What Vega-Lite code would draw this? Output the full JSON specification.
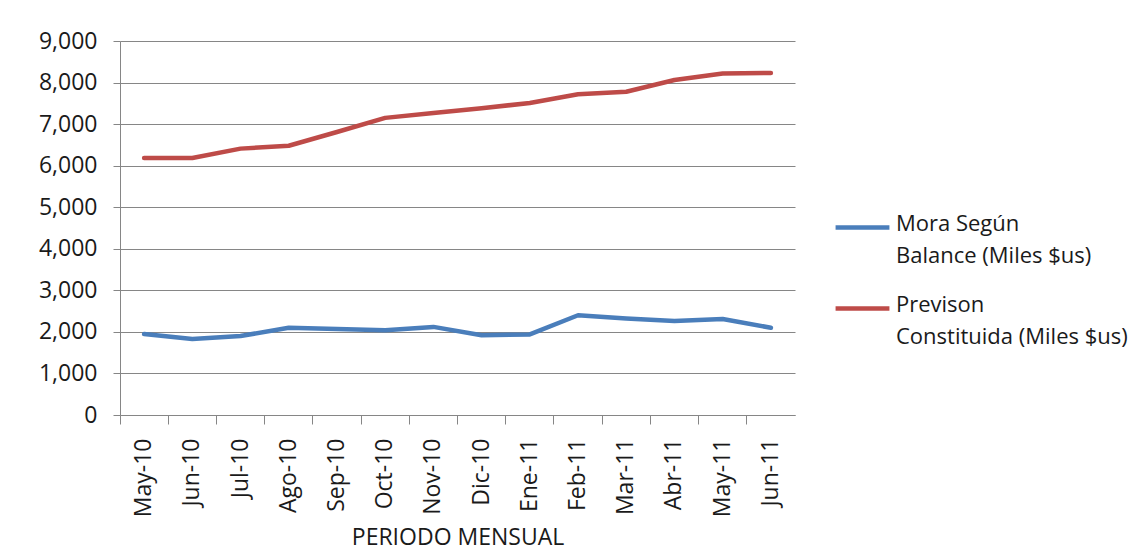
{
  "$schema": "https://vega.github.io/schema/vega-lite/v6.json",
  "width": 675,
  "height": 374,
  "autosize": {"type": "none"},
  "padding": {"left": 120, "top": 41, "right": 352, "bottom": 135},
  "background": "white",
  "config": {"view": {"stroke": null}, "font": "Open Sans"},
  "data": {
    "values": [
      {"mes": "May-10", "serie": "Mora", "valor": 1950},
      {"mes": "Jun-10", "serie": "Mora", "valor": 1830},
      {"mes": "Jul-10", "serie": "Mora", "valor": 1900},
      {"mes": "Ago-10", "serie": "Mora", "valor": 2100},
      {"mes": "Sep-10", "serie": "Mora", "valor": 2070},
      {"mes": "Oct-10", "serie": "Mora", "valor": 2040},
      {"mes": "Nov-10", "serie": "Mora", "valor": 2120},
      {"mes": "Dic-10", "serie": "Mora", "valor": 1920},
      {"mes": "Ene-11", "serie": "Mora", "valor": 1940},
      {"mes": "Feb-11", "serie": "Mora", "valor": 2400},
      {"mes": "Mar-11", "serie": "Mora", "valor": 2320},
      {"mes": "Abr-11", "serie": "Mora", "valor": 2260},
      {"mes": "May-11", "serie": "Mora", "valor": 2310},
      {"mes": "Jun-11", "serie": "Mora", "valor": 2100},
      {"mes": "May-10", "serie": "Prevision", "valor": 6185},
      {"mes": "Jun-10", "serie": "Prevision", "valor": 6185},
      {"mes": "Jul-10", "serie": "Prevision", "valor": 6410},
      {"mes": "Ago-10", "serie": "Prevision", "valor": 6480},
      {"mes": "Sep-10", "serie": "Prevision", "valor": 6810},
      {"mes": "Oct-10", "serie": "Prevision", "valor": 7150},
      {"mes": "Nov-10", "serie": "Prevision", "valor": 7270},
      {"mes": "Dic-10", "serie": "Prevision", "valor": 7380},
      {"mes": "Ene-11", "serie": "Prevision", "valor": 7510},
      {"mes": "Feb-11", "serie": "Prevision", "valor": 7720},
      {"mes": "Mar-11", "serie": "Prevision", "valor": 7780},
      {"mes": "Abr-11", "serie": "Prevision", "valor": 8060},
      {"mes": "May-11", "serie": "Prevision", "valor": 8220},
      {"mes": "Jun-11", "serie": "Prevision", "valor": 8230}
    ]
  },
  "mark": {"type": "line", "strokeWidth": 4.5, "strokeCap": "round", "strokeJoin": "round"},
  "encoding": {
    "x": {
      "field": "mes",
      "type": "nominal",
      "sort": null,
      "scale": {"type": "band", "paddingInner": 0, "paddingOuter": 0},
      "axis": {
        "title": "PERIODO MENSUAL",
        "titleFont": "Open Sans",
        "titleFontSize": 23,
        "titleFontWeight": "normal",
        "titleColor": "#1a1a1a",
        "titlePadding": 10,
        "labelAngle": -90,
        "labelFontSize": 23,
        "labelColor": "#1a1a1a",
        "labelPadding": 14,
        "bandPosition": 0,
        "ticks": true,
        "tickSize": 9,
        "tickColor": "#868686",
        "domainColor": "#868686",
        "grid": false
      }
    },
    "y": {
      "field": "valor",
      "type": "quantitative",
      "scale": {"domain": [0, 9000], "nice": false},
      "axis": {
        "title": null,
        "values": [0, 1000, 2000, 3000, 4000, 5000, 6000, 7000, 8000, 9000],
        "labelExpr": "format(datum.value, ',.0f')",
        "labelFontSize": 23,
        "labelColor": "#1a1a1a",
        "labelPadding": 16,
        "tickSize": 7,
        "tickColor": "#868686",
        "domainColor": "#868686",
        "gridColor": "#868686",
        "gridWidth": 1
      }
    },
    "color": {
      "field": "serie",
      "type": "nominal",
      "scale": {"domain": ["Mora", "Prevision"], "range": ["#4A7EBB", "#BE4B48"]},
      "legend": {
        "title": null,
        "orient": "none",
        "legendX": 713,
        "legendY": 157,
        "symbolType": "stroke",
        "symbolSize": 2900,
        "symbolStrokeWidth": 4.5,
        "labelFontSize": 22,
        "labelColor": "#1a1a1a",
        "labelLimit": 400,
        "rowPadding": 12,
        "labelOffset": 4,
        "labelBaseline": "top",
        "labelExpr": "datum.label == 'Mora' ? ['Mora Según', 'Balance  (Miles $us)'] : ['Previson', 'Constituida (Miles $us)']",
        "encode": {
          "labels": {"update": {"dy": {"value": -14}, "lineHeight": {"value": 32}}}
        }
      }
    }
  }
}
